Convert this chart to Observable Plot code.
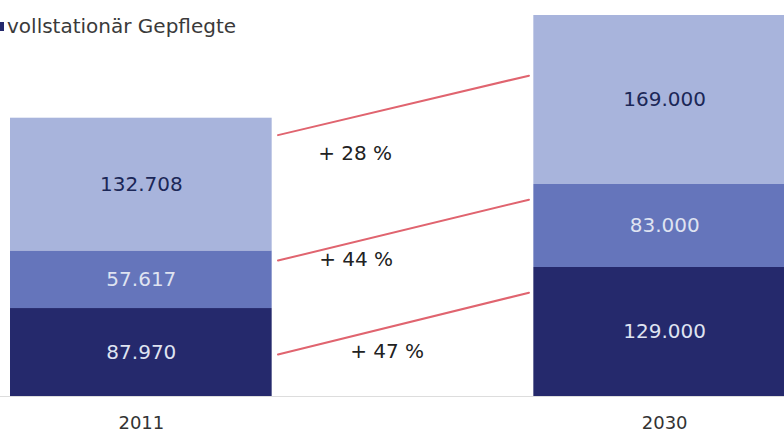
<!DOCTYPE html>
<html><head><meta charset="utf-8">
<script src="https://cdn.jsdelivr.net/npm/d3@7"></script>
<script src="https://cdn.jsdelivr.net/npm/@observablehq/plot@0.6"></script>
<style>
html,body{margin:0;padding:0;background:#fff;overflow:hidden}
#wrap{position:relative;width:784px;height:435px;overflow:hidden}
#legend{position:absolute;left:-5px;top:14px;font-family:"DejaVu Sans";font-size:20px;color:#3a3a3a;display:flex;align-items:center;white-space:nowrap}
#legend .sw{display:inline-block;width:9px;height:9px;background:#25296c;margin-right:3px}
</style></head><body>
<div id="wrap"><div id="chart"></div><div id="legend"><span class="sw"></span>vollstationär Gepflegte</div></div>
<script>
// ---- data ----
const years = ["2011", "2030"];
const seriesNames = ["vollstationär Gepflegte", "ambulant Gepflegte", "Pflegegeldempfänger"]; // bottom to top
const darkValues  = [87970, 129000];
const midValues   = [57617, 83000];
const lightValues = [132708, 169000];
const changeLabels = ["+ 28 %", "+ 44 %", "+ 47 %"];     // top to bottom
const linkFrom = [260000, 134500, 40500];                // 2011 side
const linkTo   = [322000, 198000, 105000];               // 2030 side

// ---- styles ----
const seriesColors = ["#25296c", "#6575bb", "#a8b4dc"];
const labelColors  = ["#dfe3f1", "#dfe3f1", "#1b2757"];
const pctOffsets = [{dx: 46, dy: 17}, {dx: 47, dy: -2}, {dx: 78, dy: -4}];

const fmt = d3.formatLocale({decimal: ",", thousands: ".", grouping: [3], currency: ["", ""]}).format(",d");

const seriesValues = [darkValues, midValues, lightValues];
const rows = [];
years.forEach((yr, i) => {
  let base = 0;
  seriesNames.forEach((s, k) => {
    const v = seriesValues[k][i];
    rows.push({year: yr, i, k, seg: s, value: v, y1: base, y2: base + v});
    base += v;
  });
});
const links = changeLabels.map((t, j) => ({label: t, from: linkFrom[j], to: linkTo[j], j}));

const marks = [
  Plot.ruleY([0], {stroke: "#dddddd", strokeWidth: 1}),
  Plot.rectY(rows, {x1: d => 2 * d.i, x2: d => 2 * d.i + 1, y1: "y1", y2: "y2", fill: "seg"}),
  ...seriesNames.map((s, k) => Plot.text(rows.filter(d => d.k === k), {
    x: d => 2 * d.i + 0.5, y: d => (d.y1 + d.y2) / 2, text: d => fmt(d.value),
    fill: labelColors[k], fontSize: 20
  })),
  Plot.arrow(links, {x1: () => 1, x2: () => 2, y1: "from", y2: "to", stroke: "#e0646f",
    strokeWidth: 2, headLength: 0, insetStart: 6, insetEnd: 5}),
  ...links.map((l, j) => Plot.text([l], {x: () => 1, y: "from", text: "label", textAnchor: "start",
    dx: pctOffsets[j].dx, dy: pctOffsets[j].dy, fill: "#222", fontSize: 20})),
  Plot.text(years, {x: (d, i) => 2 * i + 0.5, frameAnchor: "bottom", lineAnchor: "middle", dy: 27, text: d => d,
    fill: "#333", fontSize: 18})
];

const chart = Plot.plot({
  width: 784, height: 435,
  marginTop: 0, marginBottom: 39, marginLeft: 0, marginRight: 0,
  style: {fontFamily: "DejaVu Sans", background: "#fff"},
  x: {type: "linear", domain: [0, 3], range: [10, 795], axis: null},
  y: {domain: [0, 396000], axis: null},
  color: {domain: seriesNames, range: seriesColors},
  marks
});
document.getElementById("chart").appendChild(chart);
</script>
</body></html>
